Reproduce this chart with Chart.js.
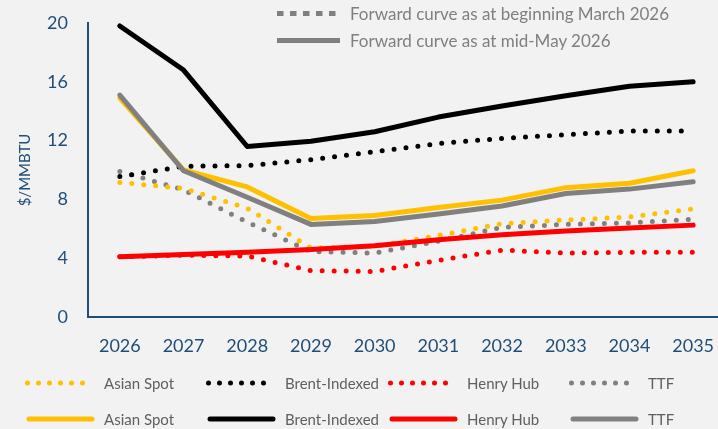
<!DOCTYPE html>
<html lang="en">
<head>
<meta charset="UTF-8">
<title>LNG forward curves</title>
<script src="https://cdn.jsdelivr.net/npm/chart.js"></script>
<style>
    body { margin: 0; background: #f2f2f2; font-family: Lato, sans-serif; }
    .wrap { position: relative; width: 718px; height: 429px; overflow: hidden; }
    canvas { position: absolute; left: 0; top: 0; }
    .lg { position: absolute; display: flex; align-items: center; white-space: nowrap; transform: translateY(-50%); }
    .lg svg { flex: none; display: block; }
    .top-lg span { color: #7f7f7f; font-size: 17px; margin-left: 10px; }
    .bot-lg span { color: #5f5f5f; font-size: 15px; margin-left: 8px; }
</style>
</head>
<body>
<div class="wrap" id="wrap">
    <canvas id="chart" width="718" height="429"></canvas>
</div>
<script>
    const years = [2026, 2027, 2028, 2029, 2030, 2031, 2032, 2033, 2034, 2035];
    const yTicks = [0, 4, 8, 12, 16, 20];

    // forward curve, beginning March 2026 (dotted)
    const asianMar = [9.15, 8.75, 7.4, 4.7, 4.8, 5.55, 6.35, 6.6, 6.8, 7.35];
    const brentMar = [9.55, 10.25, 10.3, 10.7, 11.25, 11.8, 12.15, 12.4, 12.65, 12.65];
    const henryMar = [4.1, 4.2, 4.15, 3.15, 3.1, 3.85, 4.55, 4.35, 4.4, 4.4];
    const ttfMar = [9.9, 8.65, 6.45, 4.45, 4.35, 5.15, 6.1, 6.3, 6.4, 6.65];

    // forward curve, mid-May 2026 (solid)
    const asianMay = [14.9, 10.0, 8.85, 6.7, 6.9, 7.45, 7.95, 8.8, 9.1, 9.95];
    const brentMay = [19.8, 16.8, 11.6, 11.95, 12.6, 13.6, 14.35, 15.05, 15.7, 16.0];
    const henryMay = [4.1, 4.25, 4.4, 4.6, 4.85, 5.25, 5.6, 5.85, 6.05, 6.25];
    const ttfMay = [15.1, 9.95, 8.15, 6.3, 6.5, 7.0, 7.55, 8.4, 8.7, 9.2];

    const seriesNames = ['Asian Spot', 'Brent-Indexed', 'Henry Hub', 'TTF'];
    const seriesColors = ['#ffc000', '#000000', '#ff0000', '#808080'];
    const topLegend = ['Forward curve as at beginning March 2026', 'Forward curve as at mid-May 2026'];

    const axisColor = '#1f4e79';

    function pts(vals) {
        return years.map((y, i) => ({ x: y, y: vals[i] }));
    }

    function dottedSet(name, vals, color) {
        return {
            label: name + ' (Mar)', data: pts(vals), borderColor: color,
            borderWidth: 5, borderDash: [0, 12], borderCapStyle: 'round',
            pointRadius: 0, tension: 0, fill: false, order: 10
        };
    }

    function solidSet(name, vals, color, order) {
        return {
            label: name + ' (May)', data: pts(vals), borderColor: color,
            borderWidth: 5, borderCapStyle: 'round', borderJoinStyle: 'round',
            pointRadius: 0, tension: 0, fill: false, order: order
        };
    }

    new Chart(document.getElementById('chart'), {
        type: 'line',
        data: {
            datasets: [
                dottedSet(seriesNames[0], asianMar, seriesColors[0]),
                dottedSet(seriesNames[1], brentMar, seriesColors[1]),
                dottedSet(seriesNames[2], henryMar, seriesColors[2]),
                dottedSet(seriesNames[3], ttfMar, seriesColors[3]),
                solidSet(seriesNames[0], asianMay, seriesColors[0], 5),
                solidSet(seriesNames[3], ttfMay, seriesColors[3], 4),
                solidSet(seriesNames[1], brentMay, seriesColors[1], 3),
                solidSet(seriesNames[2], henryMay, seriesColors[2], 2)
            ]
        },
        options: {
            responsive: false,
            animation: false,
            layout: { padding: { top: 23, right: 0, bottom: 0, left: 0 } },
            plugins: { legend: { display: false }, tooltip: { enabled: false } },
            scales: {
                x: {
                    type: 'linear',
                    min: 2025.5,
                    max: 2035.39,
                    afterBuildTicks: s => { s.ticks = years.map(v => ({ value: v })); },
                    afterFit: s => { s.height = 112; s.paddingLeft = 0; s.paddingRight = 0; },
                    grid: { display: false, drawTicks: false },
                    border: { color: axisColor, width: 2 },
                    ticks: {
                        color: axisColor, font: { family: 'Lato', size: 18 },
                        padding: 18, maxRotation: 0, autoSkip: false,
                        callback: v => String(v)
                    }
                },
                y: {
                    min: 0,
                    max: 20,
                    afterBuildTicks: s => { s.ticks = yTicks.map(v => ({ value: v })); },
                    afterFit: s => { s.width = 88; s.paddingTop = 0; s.paddingBottom = 0; },
                    grid: { display: false, drawTicks: false },
                    border: { color: axisColor, width: 2 },
                    ticks: {
                        color: axisColor, font: { family: 'Lato', size: 18 }, padding: 20
                    },
                    title: {
                        display: true, text: '$/MMBTU', color: axisColor,
                        font: { family: 'Lato', size: 15 }, padding: { top: 16, bottom: 0 }
                    }
                }
            }
        }
    });

    // legends
    const wrap = document.getElementById('wrap');

    function addItem(cls, left, top, svg, text) {
        const d = document.createElement('div');
        d.className = 'lg ' + cls;
        d.style.left = left + 'px';
        d.style.top = top + 'px';
        d.innerHTML = svg + '<span>' + text + '</span>';
        wrap.appendChild(d);
    }

    addItem('top-lg', 277, 13,
        '<svg width="63" height="8"><line x1="0" y1="4" x2="63" y2="4" stroke="#808080" stroke-width="5" stroke-dasharray="6.5 6.5"/></svg>',
        topLegend[0]);
    addItem('top-lg', 277, 40,
        '<svg width="63" height="8"><line x1="0" y1="4" x2="63" y2="4" stroke="#808080" stroke-width="5"/></svg>',
        topLegend[1]);

    const botLeft = [25, 206, 388, 569];
    seriesNames.forEach((name, i) => {
        const c = seriesColors[i];
        addItem('bot-lg', botLeft[i], 383,
            '<svg width="71" height="8"><line x1="2.5" y1="4" x2="68.5" y2="4" stroke="' + c + '" stroke-width="5" stroke-linecap="round" stroke-dasharray="0 11"/></svg>',
            name);
        addItem('bot-lg', botLeft[i], 419,
            '<svg width="71" height="8"><line x1="4" y1="4" x2="67" y2="4" stroke="' + c + '" stroke-width="5" stroke-linecap="round"/></svg>',
            name);
    });
</script>
</body>
</html>
